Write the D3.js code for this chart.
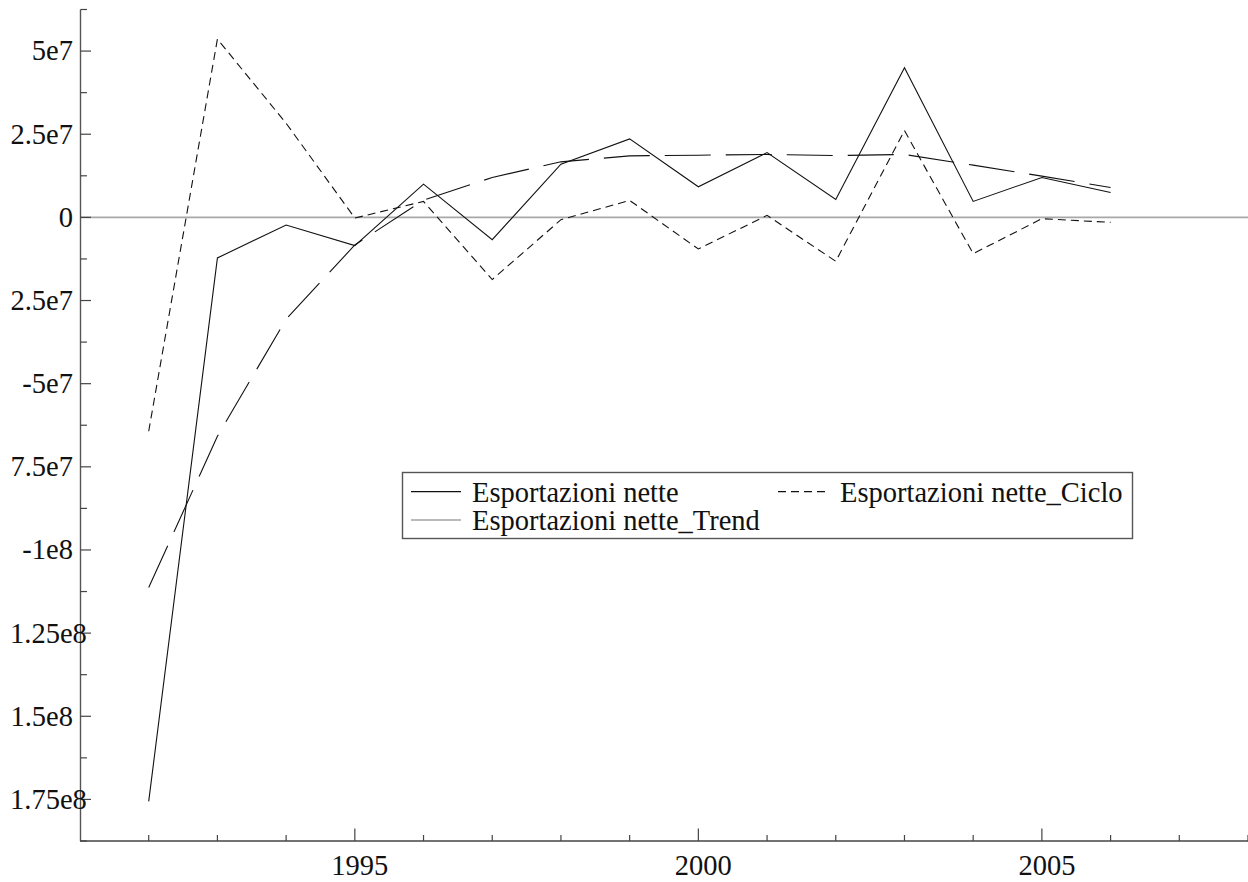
<!DOCTYPE html>
<html>
<head>
<meta charset="utf-8">
<script src="https://cdn.jsdelivr.net/npm/d3@7/dist/d3.min.js"></script>
</head>
<body style="margin:0; background:#fff">
<div id="chart"></div>
<script>
// Esportazioni nette: serie, ciclo e trend (filtro)
const years = [1992, 1993, 1994, 1995, 1996, 1997, 1998, 1999, 2000, 2001, 2002, 2003, 2004, 2005, 2006];
const nette = [-1.756e8, -1.22e7, -2.3e6, -8.5e6, 1.0e7, -6.7e6, 1.6e7, 2.36e7, 9.2e6, 1.95e7, 5.4e6, 4.5e7, 4.8e6, 1.2e7, 7.5e6];
const ciclo = [-6.43e7, 5.36e7, 2.83e7, -2e5, 4.8e6, -1.87e7, -7e5, 5.1e6, -9.5e6, 6e5, -1.32e7, 2.61e7, -1.09e7, -4e5, -1.5e6];
const trend = [-1.113e8, -6.58e7, -3.06e7, -8.3e6, 5.2e6, 1.2e7, 1.67e7, 1.85e7, 1.87e7, 1.89e7, 1.86e7, 1.89e7, 1.57e7, 1.24e7, 9e6];

// tick labels as printed on the original (long negative labels lose the minus sign)
const yTickValues = [5e7, 2.5e7, 0, -2.5e7, -5e7, -7.5e7, -1e8, -1.25e8, -1.5e8, -1.75e8];
const yTickLabels = ["5e7", "2.5e7", "0", "2.5e7", "-5e7", "7.5e7", "-1e8", "1.25e8", "1.5e8", "1.75e8"];
const xMajorTicks = [1995, 2000, 2005];

const seriesNames = ["Esportazioni nette", "Esportazioni nette_Ciclo", "Esportazioni nette_Trend"];

const W = 1248, H = 882;
const fontSize = 28.5;
const serif = "Liberation Serif";

const svg = d3.select("#chart").append("svg")
    .attr("width", W)
    .attr("height", H)
    .style("display", "block");

const x = d3.scaleLinear().domain([1991, 2008]).range([80, 1248]);
const y = d3.scaleLinear().domain([-1.875e8, 6.25e7]).range([841, 9.5]);

// zero line
svg.append("line")
    .attr("x1", x(1991)).attr("x2", x(2008))
    .attr("y1", y(0)).attr("y2", y(0))
    .attr("stroke", "#a8a8a8")
    .attr("stroke-width", 1.6);

// y axis
svg.append("line")
    .attr("x1", 80.5).attr("x2", 80.5)
    .attr("y1", y(6.25e7)).attr("y2", y(-1.875e8))
    .attr("stroke", "#555")
    .attr("stroke-width", 1.4);

const yMinor = d3.range(-1.875e8, 6.26e7, 2.5e7);
yMinor.forEach(v => {
    svg.append("line")
        .attr("x1", 80.5).attr("x2", 87)
        .attr("y1", y(v)).attr("y2", y(v))
        .attr("stroke", "#444").attr("stroke-width", 1.2);
});
yTickValues.forEach((v, i) => {
    svg.append("line")
        .attr("x1", 80.5).attr("x2", 91)
        .attr("y1", y(v)).attr("y2", y(v))
        .attr("stroke", "#444").attr("stroke-width", 1.2);

    const t = svg.append("text")
        .attr("x", 73)
        .attr("y", y(v))
        .attr("dy", "0.33em")
        .attr("text-anchor", "end")
        .attr("font-family", serif)
        .attr("font-size", fontSize)
        .attr("fill", "#111")
        .text(yTickLabels[i]);
    const w = t.node().getComputedTextLength();
    if (73 - w < 10) {
        t.attr("text-anchor", "start").attr("x", 10);
    }
});

// x axis
svg.append("line")
    .attr("x1", 80).attr("x2", W)
    .attr("y1", y(-1.875e8)).attr("y2", y(-1.875e8))
    .attr("stroke", "#444")
    .attr("stroke-width", 1.4);

d3.range(1992, 2009).forEach(yr => {
    const major = xMajorTicks.includes(yr);
    svg.append("line")
        .attr("x1", x(yr)).attr("x2", x(yr))
        .attr("y1", y(-1.875e8)).attr("y2", y(-1.875e8) - (major ? 12.5 : 6))
        .attr("stroke", "#444").attr("stroke-width", 1.2);
});
xMajorTicks.forEach(yr => {
    svg.append("text")
        .attr("x", x(yr) + 5)
        .attr("y", 875)
        .attr("text-anchor", "middle")
        .attr("font-family", serif)
        .attr("font-size", fontSize)
        .attr("fill", "#111")
        .text(yr);
});

// series
const line = vals => d3.line()
    .x((d, i) => x(years[i]))
    .y(d => y(d))(vals);

svg.append("path")
    .attr("d", line(trend))
    .attr("fill", "none")
    .attr("stroke", "#111")
    .attr("stroke-width", 1.1)
    .attr("stroke-dasharray", "46,15");

svg.append("path")
    .attr("d", line(ciclo))
    .attr("fill", "none")
    .attr("stroke", "#111")
    .attr("stroke-width", 1.1)
    .attr("stroke-dasharray", "8,5");

svg.append("path")
    .attr("d", line(nette))
    .attr("fill", "none")
    .attr("stroke", "#111")
    .attr("stroke-width", 1.1);

// legend
const legend = svg.append("g");
legend.append("rect")
    .attr("x", 402.5).attr("y", 472.5)
    .attr("width", 730).attr("height", 66)
    .attr("fill", "#fff")
    .attr("stroke", "#555")
    .attr("stroke-width", 1.4);

const legendItems = [
    { name: seriesNames[0], lx: 411, ly: 491.7, tx: 472, dash: null, color: "#111" },
    { name: seriesNames[1], lx: 778, ly: 491.7, tx: 840, dash: "8,5", color: "#111" },
    { name: seriesNames[2], lx: 411, ly: 520, tx: 472, dash: null, color: "#777" }
];
legendItems.forEach(it => {
    legend.append("line")
        .attr("x1", it.lx).attr("x2", it.lx + 50)
        .attr("y1", it.ly).attr("y2", it.ly)
        .attr("stroke", it.color)
        .attr("stroke-width", 1.2)
        .attr("stroke-dasharray", it.dash);
    legend.append("text")
        .attr("x", it.tx)
        .attr("y", it.ly + 10)
        .attr("font-family", serif)
        .attr("font-size", fontSize)
        .attr("fill", "#111")
        .text(it.name);
});
</script>
</body>
</html>
